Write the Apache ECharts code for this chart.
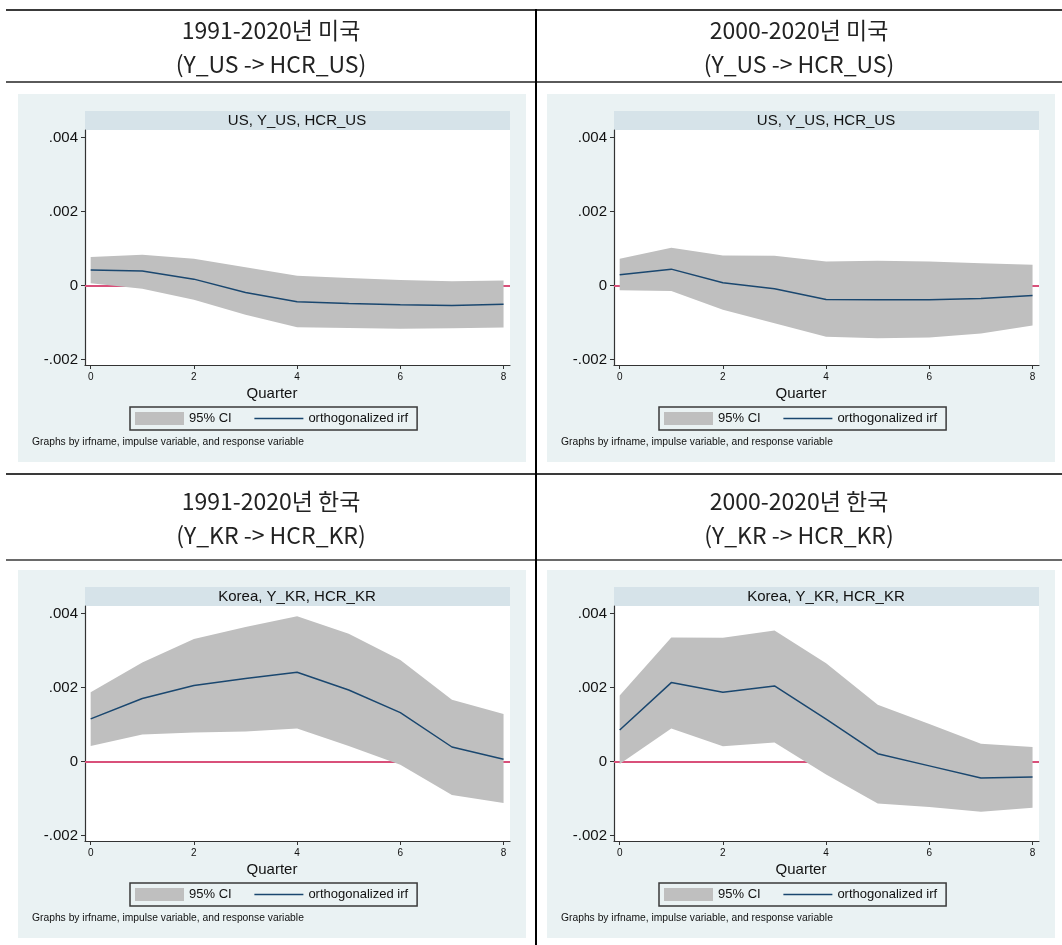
<!DOCTYPE html>
<html><head><meta charset="utf-8">
<script src="https://cdn.jsdelivr.net/npm/echarts@6/dist/echarts.min.js"></script>
<style>html,body{margin:0;padding:0;background:#fff}#c{width:1062px;height:945px}</style>
</head><body><div id="c"></div>
<script>
// ---- data ----
const quarters = [0, 1, 2, 3, 4, 5, 6, 7, 8];
const xTicks = [0, 2, 4, 6, 8];
const yTicks = [-0.002, 0, 0.002, 0.004];
const headerTitles = ['1991-2020년 미국', '2000-2020년 미국', '1991-2020년 한국', '2000-2020년 한국'];
const headerSubs = ['(Y_US -> HCR_US)', '(Y_US -> HCR_US)', '(Y_KR -> HCR_KR)', '(Y_KR -> HCR_KR)'];
const stripLabels = ['US, Y_US, HCR_US', 'US, Y_US, HCR_US', 'Korea, Y_KR, HCR_KR', 'Korea, Y_KR, HCR_KR'];
const legendNames = ['95% CI', 'orthogonalized irf'];
const xTitle = 'Quarter';
const noteText = 'Graphs by irfname, impulse variable, and response variable';

const irfUS1 =   [0.00042, 0.00039, 0.00017, -0.00019, -0.00044, -0.00049, -0.00052, -0.00054, -0.00051];
const upperUS1 = [0.00077, 0.00083, 0.00072, 0.00049, 0.00026, 0.00020, 0.00015, 0.00011, 0.00013];
const lowerUS1 = [0.00006, -0.00009, -0.00039, -0.00079, -0.00113, -0.00115, -0.00117, -0.00116, -0.00114];

const irfUS2 =   [0.00029, 0.00044, 0.00007, -0.00009, -0.00038, -0.00039, -0.00039, -0.00035, -0.00027];
const upperUS2 = [0.00072, 0.00102, 0.00081, 0.00080, 0.00065, 0.00067, 0.00065, 0.00060, 0.00056];
const lowerUS2 = [-0.00013, -0.00015, -0.00066, -0.00102, -0.00139, -0.00143, -0.00141, -0.00130, -0.00108];

const irfKR1 =   [0.00115, 0.00170, 0.00205, 0.00224, 0.00241, 0.00193, 0.00132, 0.00039, 0.00006];
const upperKR1 = [0.00187, 0.00267, 0.00331, 0.00363, 0.00392, 0.00345, 0.00274, 0.00167, 0.00128];
const lowerKR1 = [0.00042, 0.00073, 0.00078, 0.00081, 0.00089, 0.00042, -0.00009, -0.00091, -0.00112];

const irfKR2 =   [0.00085, 0.00213, 0.00187, 0.00204, 0.00114, 0.00021, -0.00012, -0.00045, -0.00042];
const upperKR2 = [0.00178, 0.00335, 0.00334, 0.00354, 0.00265, 0.00153, 0.00101, 0.00048, 0.00039];
const lowerKR2 = [-0.00007, 0.00089, 0.00041, 0.00051, -0.00035, -0.00114, -0.00123, -0.00136, -0.00125];

const irfs = [irfUS1, irfUS2, irfKR1, irfKR2];
const uppers = [upperUS1, upperUS2, upperKR1, upperKR2];
const lowers = [lowerUS1, lowerUS2, lowerKR1, lowerKR2];

// ---- layout ----
const DX = [0, 529, 0, 529];
const DY = [0, 0, 476, 476];
const FONT = '"Liberation Sans", Arial, sans-serif';
const KFONT = '"Noto Sans CJK KR", "Noto Sans", sans-serif';
const C_PANEL = '#eaf2f3', C_STRIP = '#d6e3e9', C_CI = '#bfbfbf', C_IRF = '#1a476f', C_ZERO = '#d9507a', C_GRID = '#e6eff1';

const chart = echarts.init(document.getElementById('c'), null, {renderer: 'canvas'});

const grids = [], xAxes = [], yAxes = [], series = [], legends = [], graphics = [];

const fmtY = v => v === 0 ? '0' : (v < 0 ? '-' : '') + String(Math.abs(v)).replace(/^0/, '');

// table lines
graphics.push({type: 'rect', shape: {x: 6, y: 9, width: 1056, height: 2}, style: {fill: '#3a3a3a'}, z: 10});
graphics.push({type: 'rect', shape: {x: 6, y: 81, width: 1056, height: 2}, style: {fill: '#5a5a5a'}, z: 10});
graphics.push({type: 'rect', shape: {x: 6, y: 473, width: 1056, height: 2}, style: {fill: '#3a3a3a'}, z: 10});
graphics.push({type: 'rect', shape: {x: 6, y: 559, width: 1056, height: 2}, style: {fill: '#6a6a6a'}, z: 10});
graphics.push({type: 'rect', shape: {x: 535, y: 9, width: 2, height: 936}, style: {fill: '#000'}, z: 11});

for (let i = 0; i < 4; i++) {
  const dx = DX[i], dy = DY[i];
  const colCx = i % 2 === 0 ? 271 : 799;
  const rowCy = i < 2 ? 47 : 518;
  // headers
  graphics.push({type: 'text', x: colCx, y: rowCy - 17, style: {text: headerTitles[i], font: '23px ' + KFONT, fill: '#222', textAlign: 'center', textVerticalAlign: 'middle'}, z: 10});
  graphics.push({type: 'text', x: colCx, y: rowCy + 17, style: {text: headerSubs[i], font: '23px ' + KFONT, fill: '#222', textAlign: 'center', textVerticalAlign: 'middle'}, z: 10});
  // panel background
  graphics.push({type: 'rect', shape: {x: 18 + dx, y: 94 + dy, width: 508, height: 368}, style: {fill: C_PANEL}, z: -10});
  // strip
  graphics.push({type: 'rect', shape: {x: 85 + dx, y: 111 + dy, width: 425, height: 19}, style: {fill: C_STRIP}, z: -9});
  graphics.push({type: 'text', x: 297 + dx, y: 121 + dy, style: {text: stripLabels[i], font: '15px ' + FONT, fill: '#111', textAlign: 'center', textVerticalAlign: 'middle'}, z: 5});
  // x title
  graphics.push({type: 'text', x: 272 + dx, y: 394 + dy, style: {text: xTitle, font: '15px ' + FONT, fill: '#111', textAlign: 'center', textVerticalAlign: 'middle'}, z: 5});
  // note
  graphics.push({type: 'text', x: 32 + dx, y: 442 + dy, style: {text: noteText, font: '10.3px ' + FONT, fill: '#111', textAlign: 'left', textVerticalAlign: 'middle'}, z: 5});

  grids.push({left: 85 + dx, top: 130 + dy, width: 425, height: 235, show: true, backgroundColor: '#fff', borderWidth: 0, containLabel: false});
  xAxes.push({
    type: 'value', gridIndex: i, min: -0.11, max: 8.125,
    axisLine: {show: true, onZero: false, lineStyle: {color: '#333', width: 1.2}},
    axisTick: {show: true, length: 4, customValues: xTicks, lineStyle: {color: '#333', width: 1}},
    axisLabel: {show: true, customValues: xTicks, fontSize: 10, fontFamily: FONT, color: '#111', margin: 7},
    splitLine: {show: false}
  });
  yAxes.push({
    type: 'value', gridIndex: i, min: -0.00215, max: 0.0042,
    axisLine: {show: true, onZero: false, lineStyle: {color: '#333', width: 1.2}},
    axisTick: {show: true, length: 4, customValues: yTicks, lineStyle: {color: '#333', width: 1}},
    axisLabel: {show: true, customValues: yTicks, fontSize: 15, fontFamily: FONT, color: '#111', margin: 7, formatter: fmtY},
    splitLine: {show: false}
  });

  const lo = lowers[i], up = uppers[i];
  series.push({
    type: 'custom', name: legendNames[0], xAxisIndex: i, yAxisIndex: i, z: 2, silent: true,
    data: [[0, 0]],
    renderItem: function (params, api) {
      const pts = [];
      quarters.forEach((q, k) => pts.push(api.coord([q, up[k]])));
      for (let k = quarters.length - 1; k >= 0; k--) pts.push(api.coord([quarters[k], lo[k]]));
      return {type: 'polygon', shape: {points: pts}, style: {fill: C_CI}};
    },
    itemStyle: {color: C_CI}
  });
  series.push({
    type: 'line', name: legendNames[1], xAxisIndex: i, yAxisIndex: i, z: 3,
    data: quarters.map((q, k) => [q, irfs[i][k]]),
    symbol: 'none', showSymbol: false, silent: true,
    lineStyle: {color: C_IRF, width: 1.5}, itemStyle: {color: C_IRF},
    markLine: {
      silent: true, symbol: 'none', z: 1, animation: false,
      label: {show: false},
      data: [
        {yAxis: -0.002, lineStyle: {color: C_GRID, width: 1, type: 'solid'}},
        {yAxis: 0.002, lineStyle: {color: C_GRID, width: 1, type: 'solid'}},
        {yAxis: 0.004, lineStyle: {color: C_GRID, width: 1, type: 'solid'}},
        {yAxis: 0, lineStyle: {color: C_ZERO, width: 2, type: 'solid'}}
      ]
    }
  });
  legends.push({
    left: 130 + dx, top: 407 + dy, orient: 'horizontal',
    borderColor: '#3a3a3a', borderWidth: 1.5, padding: [5, 9, 5, 5],
    itemGap: 22, itemWidth: 49, itemHeight: 13, selectedMode: false,
    textStyle: {fontSize: 13, fontFamily: FONT, color: '#111'},
    data: [
      {name: legendNames[0], icon: 'rect', itemStyle: {color: C_CI}},
      {name: legendNames[1], itemStyle: {opacity: 0}, lineStyle: {color: C_IRF, width: 1.5, opacity: 1}}
    ]
  });
}

chart.setOption({
  animation: false,
  backgroundColor: '#fff',
  grid: grids, xAxis: xAxes, yAxis: yAxes, series: series, legend: legends,
  graphic: {elements: graphics}
});
</script></body></html>
